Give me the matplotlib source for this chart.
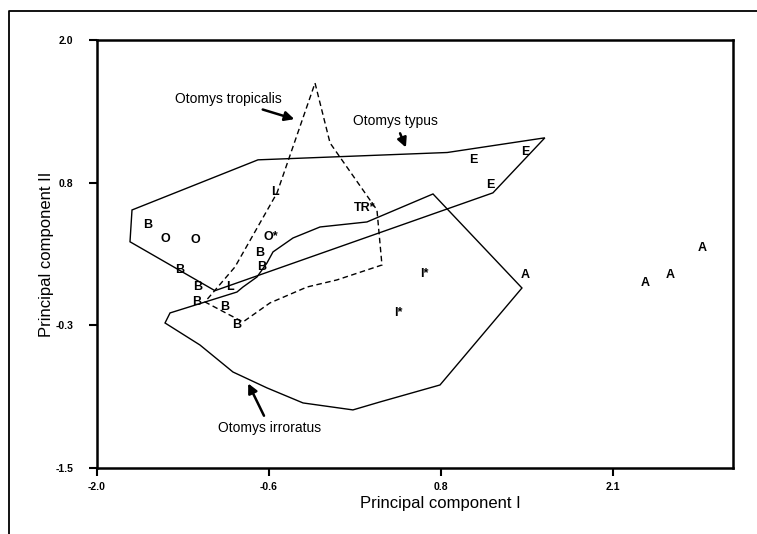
import numpy as np
import matplotlib.pyplot as plt
from matplotlib.lines import Line2D

plt.rcParams['font.family'] = ['Liberation Sans', 'DejaVu Sans']

# convex hulls (principal component I, principal component II)
typus_x = [-1.72, -1.736, -1.057, 1.165, 1.58, 0.80, -0.713]
typus_y = [0.61, 0.35, -0.05, 0.75, 1.20, 1.08, 1.02]

irroratus_x = [0.686, 1.397, 0.742, 0.262, 0.046, -0.353, -0.641, -0.913, -1.177, -1.456,
               -1.416, -0.881, -0.833, -0.721, -0.641, -0.593, -0.433, -0.217, 0.158]
irroratus_y = [0.741, -0.028, -0.821, -0.96, -1.025, -0.968, -0.845, -0.715, -0.494, -0.314,
               -0.232, -0.061, -0.02, 0.062, 0.177, 0.267, 0.381, 0.471, 0.512]

tropicalis_x = [-0.257, -0.137, 0.238, 0.278, -0.082, -0.321, -0.617, -0.833, -1.137, -0.897, -0.561]
tropicalis_y = [1.648, 1.158, 0.61, 0.16, 0.038, -0.02, -0.15, -0.306, -0.142, 0.144, 0.749]

# specimen labels
pt_lab = ['B', 'O', 'O', 'L', 'O*', 'B', 'B', 'TR*', 'B', 'B', 'L', 'B', 'B', 'B',
          'E', 'E', 'E', 'I*', 'I*', 'A', 'A', 'A', 'A']
pt_x = [-1.592, -1.456, -1.217, -0.577, -0.609, -0.697, -0.681, 0.142, -1.337, -1.193, -0.937,
        -1.201, -0.977, -0.881, 1.006, 1.421, 1.141, 0.614, 0.406, 1.421, 2.381, 2.58, 2.836]
pt_y = [0.487, 0.373, 0.365, 0.757, 0.389, 0.258, 0.144, 0.626, 0.119, -0.02, -0.02,
        -0.142, -0.183, -0.33, 1.019, 1.084, 0.814, 0.087, -0.232, 0.078, 0.013, 0.078, 0.299]

xticks = [-2.0, -0.625, 0.75, 2.125]
xtick_lab = ['-2.0', '-0.6', '0.8', '2.1']
yticks = [2.0, 0.8333, -0.3333, -1.5]
ytick_lab = ['2.0', '0.8', '-0.3', '-1.5']

fig = plt.figure(figsize=(7.57, 5.34), dpi=100)
ax = fig.add_axes([0.1281, 0.1236, 0.8402, 0.8015])

ax.fill(typus_x, typus_y, facecolor='none', edgecolor='black', lw=1.0)
ax.fill(irroratus_x, irroratus_y, facecolor='none', edgecolor='black', lw=1.0)
ax.fill(tropicalis_x, tropicalis_y, facecolor='none', edgecolor='black', lw=1.0, linestyle=(0, (4, 2.5)))

for t, x, y in zip(pt_lab, pt_x, pt_y):
    ax.text(x, y, t, ha='center', va='center', fontsize=9, fontweight='bold')

arrow = dict(arrowstyle='-|>', color='black', lw=1.8, mutation_scale=14)
ax.annotate('Otomys tropicalis', xy=(-0.401, 1.346), xytext=(-0.953, 1.518),
            ha='center', va='center', fontsize=10, arrowprops=arrow)
ax.annotate('Otomys typus', xy=(0.478, 1.10), xytext=(0.382, 1.338),
            ha='center', va='center', fontsize=10, arrowprops=arrow)
ax.annotate('Otomys irroratus', xy=(-0.801, -0.788), xytext=(-0.617, -1.173),
            ha='center', va='center', fontsize=10, arrowprops=arrow)

ax.set_xlim(-2.0, 3.084)
ax.set_ylim(-1.5, 2.0)
ax.set_xticks(xticks)
ax.set_xticklabels(xtick_lab, fontsize=7.5, fontweight='bold')
ax.set_yticks(yticks)
ax.set_yticklabels(ytick_lab, fontsize=7.5, fontweight='bold')
ax.tick_params(direction='out', length=6, width=1.5)
ax.tick_params(axis='x', pad=4)
ax.tick_params(axis='y', pad=11)
for s in ax.spines.values():
    s.set_linewidth(1.8)

ax.set_xlabel('Principal component I', fontsize=12, labelpad=0)
ax.xaxis.set_label_coords(0.54, -0.066)
ax.set_ylabel('Principal component II', fontsize=12, labelpad=1)

# outer frame of the figure panel
fig.add_artist(Line2D([9/757, 9/757, 1.0], [0.0, 1 - 11/534, 1 - 11/534],
                      color='black', lw=1.3, transform=fig.transFigure))

fig.savefig('out.png', dpi=100)
